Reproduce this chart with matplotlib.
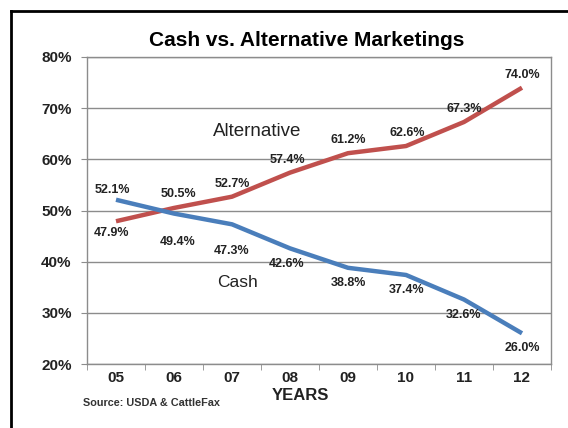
import matplotlib
matplotlib.use("Agg")
import matplotlib.pyplot as plt
from matplotlib.lines import Line2D

plt.rcParams["font.family"] = ["Liberation Sans", "DejaVu Sans"]

years = ["05", "06", "07", "08", "09", "10", "11", "12"]
alternative = [47.9, 50.5, 52.7, 57.4, 61.2, 62.6, 67.3, 74.0]
cash = [52.1, 49.4, 47.3, 42.6, 38.8, 37.4, 32.6, 26.0]
yticks = [20, 30, 40, 50, 60, 70, 80]

# label offsets in pixels (dx, dy), dy positive = up
alt_off = [(-5, -12), (4, 14), (0, 13), (-3, 13), (0, 13), (1, 13), (0, 13), (0, 13)]
cash_off = [(-4, 10), (4, -28), (0, -27), (-3, -16), (0, -15), (1, -15), (0, -15), (0, -15)]

red = "#c0504d"
blue = "#4a7ebb"
grid = "#8c8c8c"

fig = plt.figure(figsize=(5.68, 4.28), dpi=100)
ax = fig.add_axes([87 / 568, 1 - 364 / 428, (551 - 87) / 568, (364 - 57) / 428])

x = list(range(len(years)))
ax.plot(x, alternative, color=red, lw=3.2, solid_capstyle="butt", zorder=3)
ax.plot(x, cash, color=blue, lw=3.2, solid_capstyle="butt", zorder=3)

for i, v in enumerate(alternative):
    ax.annotate(f"{v:.1f}%", (i, v), xytext=alt_off[i], textcoords="offset pixels",
                ha="center", va="center", fontsize=9, fontweight="bold", color="#222222")
for i, v in enumerate(cash):
    ax.annotate(f"{v:.1f}%", (i, v), xytext=cash_off[i], textcoords="offset pixels",
                ha="center", va="center", fontsize=9, fontweight="bold", color="#222222")

ax.text(2.43, 65.5, "Alternative", ha="center", va="center", fontsize=13.5, color="#222222")
ax.text(2.1, 36.0, "Cash", ha="center", va="center", fontsize=12.5, color="#222222")

ax.set_xlim(-0.5, len(years) - 0.5)
ax.set_ylim(20, 80)
ax.set_yticks(yticks)
ax.set_yticklabels([f"{t}%" for t in yticks], fontsize=11, fontweight="bold", color="#222222")
ax.set_xticks(x)
ax.set_xticklabels(years, fontsize=11, fontweight="bold", color="#222222")
ax.set_xticks([i - 0.5 for i in range(len(years) + 1)], minor=True)
ax.tick_params(axis="x", which="major", length=0, pad=5)
ax.tick_params(axis="x", which="minor", length=4, color=grid, direction="out")
ax.tick_params(axis="y", length=4, color=grid, pad=7)
ax.yaxis.grid(True, color=grid, lw=1.0)
ax.set_axisbelow(True)
for s in ax.spines.values():
    s.set_color(grid)
    s.set_linewidth(1.0)

fig.text(307 / 568, 1 - 40 / 428, "Cash vs. Alternative Marketings", ha="center", va="center",
         fontsize=15, fontweight="bold")
fig.text(300 / 568, 1 - 396 / 428, "YEARS", ha="center", va="center", fontsize=12, fontweight="bold",
         color="#222222")
fig.text(83 / 568, 1 - 403 / 428, "Source: USDA & CattleFax", ha="left", va="center", fontsize=7.8,
         fontweight="bold", color="#333333")

# outer frame
fig.add_artist(Line2D([11 / 568, 11 / 568], [0, 1 - 11 / 428], color="black", lw=2,
                      transform=fig.transFigure))
fig.add_artist(Line2D([11 / 568, 1], [1 - 11 / 428, 1 - 11 / 428], color="black", lw=2,
                      transform=fig.transFigure))

fig.savefig("out.png", dpi=100)
